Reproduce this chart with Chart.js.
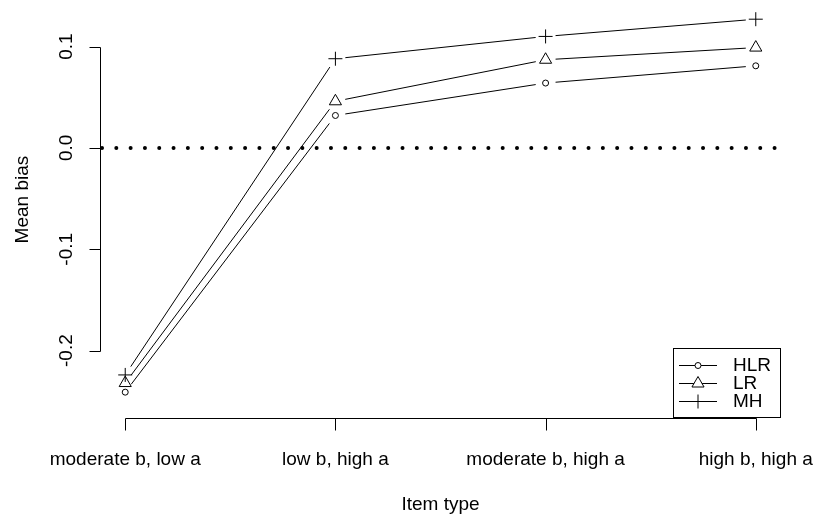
<!DOCTYPE html>
<html lang="en">
<head>
    <meta charset="UTF-8">
    <title>Mean bias by item type</title>
    <script src="https://cdn.jsdelivr.net/npm/chart.js"></script>
    <style>
        html, body {
            margin: 0;
            padding: 0;
            background: #fff;
        }
    </style>
</head>
<body>
<canvas id="chart" width="815" height="521"></canvas>

<script>
    // Данные
    const categories = ['moderate b, low a', 'low b, high a', 'moderate b, high a', 'high b, high a'];
    const hlrValues = [-0.241, 0.032, 0.064, 0.081];
    const lrValues = [-0.232, 0.046, 0.087, 0.099];
    const mhValues = [-0.224, 0.088, 0.110, 0.127];
    const yTickValues = [-0.2, -0.1, 0.0, 0.1];
    const yTickLabels = ['-0.2', '-0.1', '0.0', '0.1'];
    const seriesNames = ['HLR', 'LR', 'MH'];
    const xTitle = 'Item type';
    const yTitle = 'Mean bias';

    const FONT = '19px "Liberation Sans", Arial, sans-serif';
    const styles = ['circle', 'triangle', 'cross'];
    const radii = [3, 7, 7];

    function toPoints(values) {
        return values.map((v, i) => ({x: i, y: v}));
    }

    // рисуем маркер сами (для легенды)
    function drawMarker(ctx, style, r, x, y) {
        ctx.beginPath();
        if (style === 'circle') {
            ctx.arc(x, y, r, 0, Math.PI * 2);
            ctx.fillStyle = '#fff';
            ctx.fill();
        } else if (style === 'triangle') {
            ctx.moveTo(x, y - r);
            ctx.lineTo(x + Math.sin(2 * Math.PI / 3) * r, y + r / 2);
            ctx.lineTo(x - Math.sin(2 * Math.PI / 3) * r, y + r / 2);
            ctx.closePath();
            ctx.fillStyle = '#fff';
            ctx.fill();
        } else {
            ctx.moveTo(x - r, y);
            ctx.lineTo(x + r, y);
            ctx.moveTo(x, y - r);
            ctx.lineTo(x, y + r);
        }
        ctx.stroke();
    }

    // Линии с разрывами у точек (как type="b" в R) и пунктир на нуле
    const gapLines = {
        id: 'gapLines',
        beforeDatasetsDraw(chart) {
            const ctx = chart.ctx;
            const area = chart.chartArea;
            const y0 = chart.scales.y.getPixelForValue(0);
            ctx.save();
            ctx.strokeStyle = '#000';
            ctx.lineWidth = 4;
            ctx.lineCap = 'round';
            ctx.setLineDash([0.01, 14.3]);
            ctx.beginPath();
            ctx.moveTo(area.left + 2, y0);
            ctx.lineTo(area.right, y0);
            ctx.stroke();
            ctx.setLineDash([]);
            ctx.lineCap = 'butt';
            ctx.lineWidth = 1;
            const gap = 10;
            chart.data.datasets.forEach((ds, di) => {
                const pts = chart.getDatasetMeta(di).data;
                for (let i = 0; i < pts.length - 1; i++) {
                    const a = pts[i], b = pts[i + 1];
                    const dx = b.x - a.x, dy = b.y - a.y;
                    const len = Math.sqrt(dx * dx + dy * dy);
                    if (len <= 2 * gap) continue;
                    const ux = dx / len, uy = dy / len;
                    ctx.beginPath();
                    ctx.moveTo(a.x + ux * gap, a.y + uy * gap);
                    ctx.lineTo(b.x - ux * gap, b.y - uy * gap);
                    ctx.stroke();
                }
            });
            ctx.restore();
        },
        afterDraw(chart) {
            const ctx = chart.ctx;
            const area = chart.chartArea;
            const xs = chart.scales.x;
            const ys = chart.scales.y;
            ctx.save();
            ctx.strokeStyle = '#000';
            ctx.fillStyle = '#000';
            ctx.lineWidth = 1;
            ctx.font = FONT;

            // ось Y
            const ax = Math.round(area.left) + 0.5;
            const yTop = ys.getPixelForValue(yTickValues[yTickValues.length - 1]);
            const yBot = ys.getPixelForValue(yTickValues[0]);
            ctx.beginPath();
            ctx.moveTo(ax, Math.round(yTop) + 0.5);
            ctx.lineTo(ax, Math.round(yBot) + 0.5);
            yTickValues.forEach(v => {
                const py = Math.round(ys.getPixelForValue(v)) + 0.5;
                ctx.moveTo(ax, py);
                ctx.lineTo(ax - 11, py);
            });
            ctx.stroke();
            ctx.textAlign = 'center';
            ctx.textBaseline = 'middle';
            yTickValues.forEach((v, i) => {
                const py = ys.getPixelForValue(v);
                ctx.save();
                ctx.translate(67, py);
                ctx.rotate(-Math.PI / 2);
                ctx.fillText(yTickLabels[i], 0, 0);
                ctx.restore();
            });
            // подпись оси по центру исходной области графика (верх обрезан)
            ctx.save();
            ctx.translate(23, ys.getPixelForValue(-0.051));
            ctx.rotate(-Math.PI / 2);
            ctx.fillText(yTitle, 0, 0);
            ctx.restore();

            // ось X
            const ay = Math.round(area.bottom) + 0.5;
            const xL = xs.getPixelForValue(0);
            const xR = xs.getPixelForValue(categories.length - 1);
            ctx.beginPath();
            ctx.moveTo(Math.round(xL) + 0.5, ay);
            ctx.lineTo(Math.round(xR) + 0.5, ay);
            categories.forEach((c, i) => {
                const px = Math.round(xs.getPixelForValue(i)) + 0.5;
                ctx.moveTo(px, ay);
                ctx.lineTo(px, ay + 12);
            });
            ctx.stroke();
            categories.forEach((c, i) => {
                ctx.fillText(c, xs.getPixelForValue(i), 460);
            });
            ctx.fillText(xTitle, (area.left + area.right) / 2, 505);

            // легенда
            const bx = 673.5, by = 348.5, bw = 107, bh = 69;
            ctx.fillStyle = '#fff';
            ctx.fillRect(bx, by, bw, bh);
            ctx.strokeRect(bx, by, bw, bh);
            const rowsY = [365, 383, 401];
            seriesNames.forEach((name, i) => {
                const ry = rowsY[i] + 0.5;
                ctx.beginPath();
                ctx.moveTo(679, ry);
                ctx.lineTo(717, ry);
                ctx.stroke();
                drawMarker(ctx, styles[i], radii[i], 698, ry);
                ctx.fillStyle = '#000';
                ctx.textAlign = 'left';
                ctx.fillText(name, 733, rowsY[i] + 1);
            });
            ctx.restore();
        }
    };

    const seriesValues = [hlrValues, lrValues, mhValues];
    const datasets = seriesNames.map((name, i) => ({
        label: name,
        data: toPoints(seriesValues[i]),
        showLine: false,
        pointStyle: styles[i],
        pointRadius: radii[i],
        pointHoverRadius: radii[i],
        pointBorderColor: '#000',
        pointBackgroundColor: 'rgba(0,0,0,0)',
        pointBorderWidth: 1
    }));

    new Chart(document.getElementById('chart'), {
        type: 'scatter',
        data: {datasets: datasets},
        options: {
            responsive: false,
            animation: false,
            devicePixelRatio: 1,
            layout: {
                autoPadding: false,
                padding: {left: 100, right: 34, top: 4, bottom: 103}
            },
            plugins: {
                legend: {display: false},
                tooltip: {enabled: false}
            },
            scales: {
                x: {type: 'linear', min: -0.12, max: 3.12, display: false},
                y: {type: 'linear', min: -0.2665, max: 0.142, display: false}
            }
        },
        plugins: [gapLines]
    });
</script>
</body>
</html>
